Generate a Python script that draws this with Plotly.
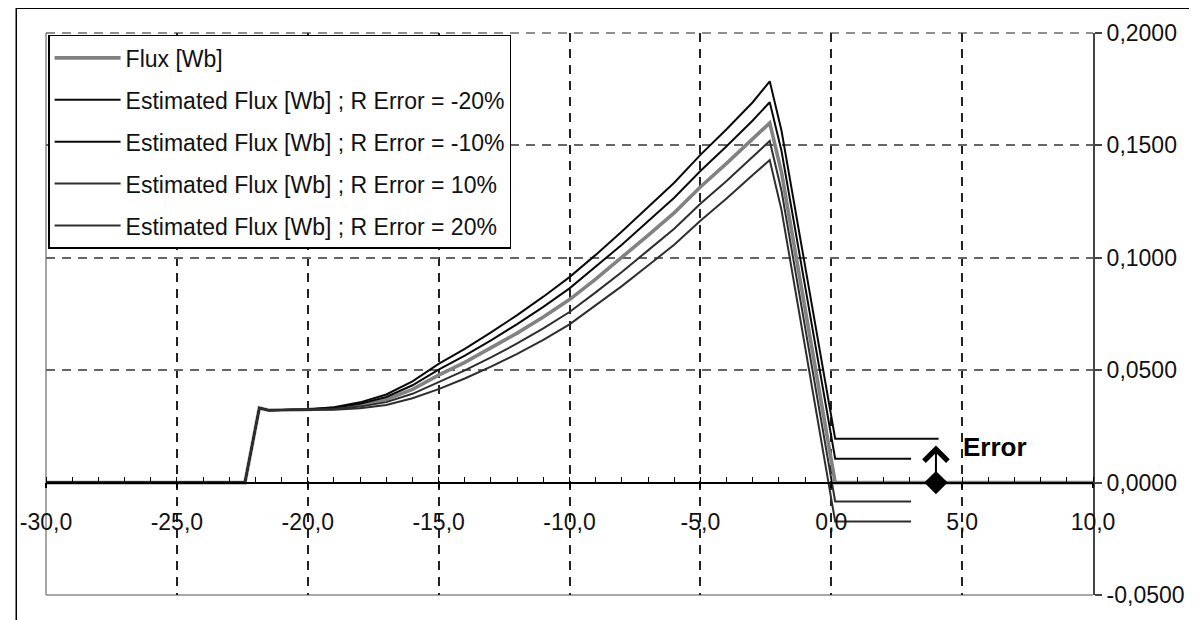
import plotly.graph_objects as go

# ---- data ----
time_s = [-30, -22.4, -21.85, -21.5, -20, -19, -18, -17, -16, -15, -14, -13, -12, -11,
          -10, -9, -8, -7, -6, -5, -4, -3, -2.35, -1.9, 0.15]
flux_end_x = [10]
est_end_x = [3.05]
err_end_x = [4.1]

flux = [0, 0, 0.0332, 0.0322, 0.0325, 0.0330, 0.0345, 0.0370, 0.0415, 0.0478, 0.0535,
        0.0598, 0.0665, 0.0737, 0.0814, 0.0905, 0.1000, 0.1100, 0.1200, 0.1315, 0.1420,
        0.1530, 0.1600, 0.1380, 0.0, 0.0]
est_m20 = [0, 0, 0.0332, 0.0322, 0.0325, 0.0335, 0.0357, 0.0392, 0.0450, 0.0528, 0.0595,
           0.0668, 0.0745, 0.0827, 0.0914, 0.1013, 0.1117, 0.1225, 0.1334, 0.1458, 0.1572,
           0.1692, 0.1785, 0.1565, 0.0195, 0.0195]
est_m10 = [0, 0, 0.0332, 0.0322, 0.0325, 0.0333, 0.0351, 0.0381, 0.0433, 0.0503, 0.0565,
           0.0633, 0.0705, 0.0782, 0.0864, 0.0959, 0.1058, 0.1163, 0.1267, 0.1386, 0.1496,
           0.1611, 0.1692, 0.1475, 0.0106, 0.0106]
est_p10 = [0, 0, 0.0332, 0.0322, 0.0325, 0.0327, 0.0338, 0.0358, 0.0395, 0.0447, 0.0499,
           0.0557, 0.0619, 0.0686, 0.0759, 0.0846, 0.0937, 0.1033, 0.1129, 0.1240, 0.1342,
           0.1449, 0.1520, 0.1298, -0.0084, -0.0084]
est_p20 = [0, 0, 0.0332, 0.0322, 0.0325, 0.0324, 0.0331, 0.0345, 0.0375, 0.0416, 0.0463,
           0.0516, 0.0573, 0.0635, 0.0704, 0.0787, 0.0874, 0.0966, 0.1058, 0.1165, 0.1264,
           0.1368, 0.1435, 0.1212, -0.0173, -0.0173]

err_marker_x = [4.0]
err_marker_y = [0.0]
err_arrow_top = 0.0165

x_ticks = [-30, -25, -20, -15, -10, -5, 0, 5, 10]
x_labels = ["-30,0", "-25,0", "-20,0", "-15,0", "-10,0", "-5,0", "0,0", "5,0", "10,0"]
y_ticks = [-0.05, 0.0, 0.05, 0.10, 0.15, 0.20]
y_labels = ["-0,0500", "0,0000", "0,0500", "0,1000", "0,1500", "0,2000"]

names = ["Flux [Wb]",
         "Estimated Flux [Wb] ; R Error = -20%",
         "Estimated Flux [Wb] ; R Error = -10%",
         "Estimated Flux [Wb] ; R Error = 10%",
         "Estimated Flux [Wb] ; R Error = 20%"]

FONT = "Liberation Sans, Arial, sans-serif"

fig = go.Figure()
series = [
    (time_s + flux_end_x, flux, "#828282", 3.6),
    (time_s + err_end_x, est_m20, "#0a0a0a", 2.0),
    (time_s + est_end_x, est_m10, "#0a0a0a", 2.0),
    (time_s + est_end_x, est_p10, "#2e2e2e", 2.0),
    (time_s + est_end_x, est_p20, "#2e2e2e", 2.0),
]
for i, (xs, ys, col, w) in enumerate(series):
    fig.add_trace(go.Scatter(x=xs, y=ys, mode="lines", name=names[i],
                             legendgroup=f"g{i}",
                             line=dict(color=col, width=w)))

fig.add_trace(go.Scatter(x=err_marker_x, y=err_marker_y, mode="markers",
                         marker=dict(symbol="diamond", size=18, color="black"),
                         showlegend=False, hoverinfo="skip"))

fig.add_annotation(x=err_marker_x[0], y=err_arrow_top, ax=err_marker_x[0], ay=err_marker_y[0] + 0.002,
                   xref="x", yref="y", axref="x", ayref="y", text="", showarrow=True,
                   arrowhead=4, arrowsize=2.3, arrowwidth=2, arrowcolor="black")
fig.add_annotation(x=4.95, y=0.0158, xref="x", yref="y", text="<b>Error</b>", showarrow=False,
                   xanchor="left", yanchor="middle",
                   font=dict(family=FONT, size=26, color="black"))

dash = "9px,7px"
# plot area left/bottom border, dashed top edge, and outer frame
fig.add_shape(type="line", xref="paper", yref="paper", x0=0, x1=0, y0=0, y1=1,
              line=dict(color="#8a8a8a", width=1.5), layer="below")
fig.add_shape(type="line", xref="paper", yref="paper", x0=0, x1=1, y0=0, y1=0,
              line=dict(color="#8a8a8a", width=1.5), layer="below")
fig.add_shape(type="line", xref="paper", yref="paper", x0=0, x1=1, y0=1, y1=1,
              line=dict(color="#6a6a6a", width=1.5, dash=dash), layer="below")
fig.add_shape(type="rect", xref="paper", yref="paper", x0=-0.0284, x1=1.3, y0=-0.3, y1=1.044,
              line=dict(color="black", width=1.5), layer="below")

# the page body has an 8px margin; the figure is sized/margined to compensate
fig.update_layout(
    width=1189, height=612,
    margin=dict(l=30, r=104, t=23, b=22),
    paper_bgcolor="white", plot_bgcolor="white",
    font=dict(family=FONT, size=23, color="#111"),
    showlegend=True,
    legend=dict(x=0.002, y=0.9965, xanchor="left", yanchor="top",
                bgcolor="white", bordercolor="black", borderwidth=1.5,
                font=dict(family=FONT, size=23, color="#111"),
                tracegroupgap=9, traceorder="grouped", itemwidth=66),
    xaxis=dict(range=[-30, 10], anchor="free", position=0.2,
               tickvals=x_ticks, ticktext=x_labels,
               showgrid=True, gridcolor="#222222", gridwidth=1.5, griddash=dash,
               zeroline=False, showline=True, linecolor="black", linewidth=1.5,
               ticks="outside", ticklen=5, tickcolor="black", tickwidth=1.5,
               ticklabelstandoff=14,
               minor=dict(dtick=1, ticks="inside", ticklen=5, tickcolor="black",
                          tickwidth=1.2, showgrid=False),
               tickfont=dict(family=FONT, size=23, color="#111")),
    yaxis=dict(range=[-0.05, 0.2], side="right", anchor="x",
               tickvals=y_ticks, ticktext=y_labels,
               showgrid=True, gridcolor="#666666", gridwidth=1.5, griddash=dash,
               zeroline=False, showline=True, linecolor="#444", linewidth=2,
               ticks="outside", ticklen=7, tickcolor="#444", tickwidth=1.5,
               tickfont=dict(family=FONT, size=23, color="#111")),
)

fig.write_html("out.html")
